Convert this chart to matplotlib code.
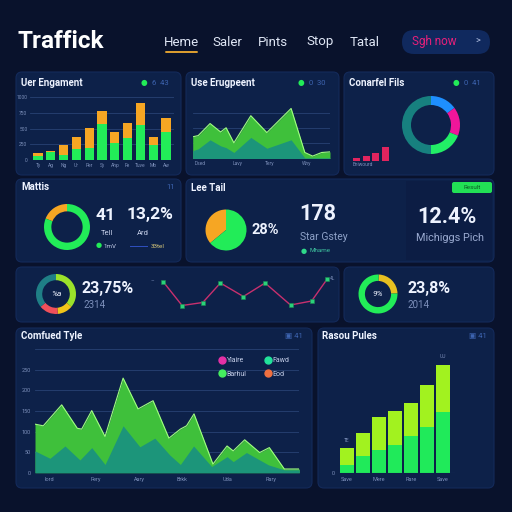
import matplotlib
matplotlib.use('Agg')
import matplotlib.pyplot as plt
from matplotlib.patches import FancyBboxPatch, Rectangle
from matplotlib.lines import Line2D

plt.rcParams['font.family'] = ['Roboto', 'DejaVu Sans']

W, H = 512, 512
BG = '#09122c'
PANEL = '#0d2149'
EDGE = '#142a5a'
GRID = '#284273'
WHITE = '#eef3ff'
DIM = '#7d90bb'
BLUE_DIM = '#3d64b0'
GREEN = '#22ec58'
ORANGE = '#f6a623'
TEAL = '#1c957a'
AREA_GREEN = '#3fc03b'
EDGE_GREEN = '#a0ff80'
LIME = '#a2f21f'

# ---- data ----
nav_items = ['Heme', 'Saler', 'Pints', 'Stop', 'Tatal']

eng_labels = ['Ty', 'Ag', 'Ng', 'Ur', 'Per', 'Sy', 'Ahp', 'Fe', 'Tuve', 'Mb', 'Aw']
eng_total = [110, 140, 240, 370, 510, 780, 440, 590, 900, 370, 670]
eng_green = [60, 130, 80, 170, 190, 570, 270, 350, 560, 240, 440]
eng_ticks = [0, 250, 500, 750, 1000]

use_days = [0, 1.2, 3.8, 6.1, 7.3, 9.0, 12.7, 16.2, 21.5, 24.5, 26.2, 28.2, 30]
use_top = [36, 38, 58, 44, 51, 26, 71, 43, 83, 10, 4, 10, 11]
use_base = [13, 16, 31, 21, 18, 10, 35, 17, 31, 1, 1, 1, 1]
use_tick_days = [1.6, 9.7, 16.9, 24.8]
use_tick_labels = ['Dsed', 'Lavy', 'Tery', 'Wny']

conv_shares = [15, 16, 19, 50]
conv_colors = ['#1e8fff', '#f0169a', '#22ee66', '#17807f']
conv_steps = [3, 5, 8, 14]

mattis_shares = [19, 81]
leetail_shares = [36, 64]
rate_shares = [36, 12.5, 15.5, 36]
rate_colors = ['#9be22a', '#f0c419', '#f0505a', '#1f7f86']
rate2_shares = [24, 76]

trend_x = [0, 0.93, 1.94, 2.8, 3.92, 4.98, 6.22, 7.25, 8.0]
trend_y = [28.5, 4.5, 7.5, 27, 13.5, 27, 5, 9, 30.7]

cf_top_x = [0, 0.94, 3.03, 4.8, 5.3, 6.44, 7.95, 10.0, 11.7, 13.4, 15.2, 16.5,
            17.2, 18.05, 20.2, 21.8, 22.5, 23.8, 25.5, 26.6, 28.3, 30]
cf_top = [118, 114, 165, 108, 106, 151, 88, 230, 155, 175, 84, 106,
          114, 143, 21, 65, 53, 80, 49, 61, 9, 9]
cf_base_x = [0, 1.7, 3.4, 5.1, 6.44, 7.95, 10.0, 11.9, 13.6, 15.3, 16.5, 18.0,
             20.05, 21.8, 22.5, 24.0, 26.5, 28.3, 30]
cf_base = [53, 35, 65, 31, 61, 20, 114, 63, 84, 43, 20, 65, 15, 39, 27, 49, 19, 7, 7]
cf_ticks = [0, 50, 100, 150, 200, 250, 300]
cf_tick_labels = ['0', '50', '100', '150', '200', '250', '']
cf_xtick_days = [1.6, 6.9, 11.9, 16.7, 21.9, 26.8]
cf_xtick_labels = ['Iord', 'Fery', 'Aary', 'Brkk', 'Uda', 'Rary']
cf_legend = ['Ylaire', 'Barhul', 'Fawd', 'Eod']
cf_legend_colors = ['#e531a6', '#45ef5f', '#22e39b', '#f07040']

rp_total = [25, 40, 56, 62, 70, 88, 108]
rp_green = [8, 17, 23, 28, 37, 46, 61]
rp_tick_idx = [0, 2, 4, 6]
rp_tick_labels = ['Save', 'Mere', 'Rare', 'Save']


fig = plt.figure(figsize=(W / 100, H / 100), dpi=100, facecolor=BG)
bg = fig.add_axes([0, 0, 1, 1])
bg.set_xlim(0, W)
bg.set_ylim(H, 0)
bg.axis('off')
bg.set_facecolor(BG)


def px_axes(x0, y0, x1, y1):
    ax = fig.add_axes([x0 / W, 1 - y1 / H, (x1 - x0) / W, (y1 - y0) / H])
    ax.set_facecolor('none')
    for s in ax.spines.values():
        s.set_visible(False)
    ax.tick_params(length=0, labelsize=3.5, colors=DIM, pad=2)
    return ax


def panel(x0, y0, x1, y1, color=PANEL):
    bg.add_patch(FancyBboxPatch((x0, y0), x1 - x0, y1 - y0,
                                boxstyle='round,pad=0,rounding_size=6',
                                fc=color, ec=EDGE, lw=0.8))


def header(x, y, title, right=None, rx=None, dot=None):
    bg.text(x, y, title, color=WHITE, fontsize=7, fontweight='bold', va='center')
    if dot is not None:
        bg.text(dot, y, '\u25cf', color=GREEN, fontsize=5.5, va='center', ha='center')
    if right is not None:
        bg.text(rx, y, right, color=BLUE_DIM, fontsize=5.5, va='center')


def donut(cx, cy, r, sizes, colors, width, start=90, ccw=False):
    ax = px_axes(cx - r, cy - r, cx + r, cy + r)
    ax.pie(sizes, colors=colors, startangle=start, counterclock=ccw,
           wedgeprops=dict(width=width, linewidth=0))
    ax.set_xlim(-1, 1)
    ax.set_ylim(-1, 1)
    return ax


# ---- top bar ----
bg.text(17, 41, 'Traffick', color='white', fontsize=17.5, fontweight='bold', va='center')
for name, cx in zip(nav_items, [181, 227, 273, 320, 365]):
    bg.text(cx, 42, name, color='#dfe6f5', fontsize=9.5, ha='center', va='center')
bg.plot([166, 197], [52, 52], color='#e0a030', lw=1.4, solid_capstyle='round')
bg.add_patch(FancyBboxPatch((402, 30), 88, 24, boxstyle='round,pad=0,rounding_size=12',
                            fc='#10295e', ec='none'))
bg.text(412, 42, 'Sgh now', color='#e8207a', fontsize=8.5, va='center')
bg.text(475, 41, '>', color='#b8c6e6', fontsize=6.5, va='center')

# ---- panels ----
panel(16, 72, 181, 175)
panel(186, 72, 339, 175)
panel(344, 72, 494, 175)
panel(16, 179, 181, 262)
panel(186, 179, 494, 262)
bg.add_patch(Rectangle((406, 181), 86, 79, fc='#0c1d44', ec='none'))
panel(16, 267, 339, 322)
panel(344, 267, 494, 322)
panel(16, 328, 312, 488)
panel(318, 328, 494, 488)

# ---- Uer Engament: stacked bars ----
header(21, 83, 'Uer Engament', '6  43', 152, dot=144)
ax = px_axes(30.3, 94, 173.7, 160)
idx = range(len(eng_labels))
eng_orange = [t - g for t, g in zip(eng_total, eng_green)]
ax.bar(idx, eng_green, width=0.73, color=GREEN)
ax.bar(idx, eng_orange, bottom=eng_green, width=0.73, color=ORANGE)
ax.set_xlim(-0.6, 10.6)
ax.set_ylim(0, 1050)
ax.set_yticks(eng_ticks)
ax.set_yticklabels([str(t) for t in eng_ticks])
ax.set_xticks(list(idx))
ax.set_xticklabels(eng_labels)
ax.grid(axis='y', color=GRID, lw=0.6)
ax.set_axisbelow(True)

# ---- Use Erugpeent: area ----
header(191, 83, 'Use Erugpeent', '0  30', 309, dot=301)
ax = px_axes(192.7, 97, 330, 158.5)
ax.fill_between(use_days, 0, use_top, color=AREA_GREEN, lw=0)
ax.plot(use_days, use_top, color=EDGE_GREEN, lw=0.8)
ax.fill_between(use_days, 0, use_base, color=TEAL, lw=0)
ax.set_xlim(0, 30)
ax.set_ylim(0, 102)
ax.set_yticks([25, 50, 75])
ax.set_yticklabels([])
ax.set_xticks(use_tick_days)
ax.set_xticklabels(use_tick_labels)
ax.grid(axis='y', color=GRID, lw=0.6)
ax.set_axisbelow(True)

# ---- Conarfel Fils: donut + step bars ----
header(349, 83, 'Conarfel Fils', '0  41', 464, dot=456)
donut(431, 125, 29, conv_shares, conv_colors, 0.31)
ax = px_axes(351, 130, 391, 161)
ax.bar(range(len(conv_steps)), conv_steps, width=0.78, color='#e0245e')
ax.set_xlim(-0.6, 3.6)
ax.set_ylim(0, 31)
ax.set_xticks([])
ax.set_yticks([])
bg.text(353, 165, 'Eniwourd', color=DIM, fontsize=3.5, va='center')

# ---- Mattis ----
header(21, 187, 'Mattis', '11', 166)
donut(67, 227, 23, mattis_shares, [ORANGE, GREEN], 0.32, ccw=True)
bg.text(96, 215, '41', color=WHITE, fontsize=12.5, fontweight='bold', va='center')
bg.text(127, 215, '13,2%', color=WHITE, fontsize=12.5, fontweight='bold', va='center')
bg.text(101, 233, 'Tell', color='#c6d0ea', fontsize=5.5, va='center')
bg.text(137, 233, 'Ard', color='#c6d0ea', fontsize=5.5, va='center')
bg.text(99, 246, '\u25cf', color=GREEN, fontsize=5, va='center', ha='center')
bg.text(104, 246, '1mV', color='#c6d0ea', fontsize=4.5, va='center')
bg.plot([130, 147], [246, 246], color='#3050c0', lw=0.7)
bg.text(151, 246, '33tel', color='#d8c87a', fontsize=4.5, va='center')

# ---- Lee Tail ----
header(191, 188, 'Lee Tail')
bg.add_patch(FancyBboxPatch((452, 182), 40, 11, boxstyle='round,pad=0,rounding_size=2',
                            fc='#22e055', ec='none'))
bg.text(472, 187.5, 'Result', color='#0b5a25', fontsize=4.5, ha='center', va='center')
donut(226, 230, 20.5, leetail_shares, [ORANGE, GREEN], 1.0, ccw=True)
bg.text(252, 230, '28%', color=WHITE, fontsize=10.5, fontweight='bold', va='center')
bg.text(299, 214, '178', color=WHITE, fontsize=15.5, fontweight='bold', va='center')
bg.text(300, 237, 'Star Gstey', color='#8ea2c8', fontsize=7.5, va='center')
bg.text(304, 251, '\u25cf', color='#2fd88a', fontsize=5, va='center', ha='center')
bg.text(309, 251, 'Mhame', color='#3fc4a0', fontsize=4.5, va='center')
bg.text(417, 217, '12.4%', color=WHITE, fontsize=15.5, fontweight='bold', va='center')
bg.text(416, 238, 'Michiggs Pich', color='#9aaad0', fontsize=7.8, va='center')

# ---- rate row with trend line ----
donut(56, 294, 20, rate_shares, rate_colors, 0.31)
bg.text(56, 294, '%a', color=WHITE, fontsize=6, ha='center', va='center', style='italic')
bg.text(82, 288, '23,75%', color=WHITE, fontsize=11.5, fontweight='bold', va='center')
bg.text(83, 305, '2314', color=DIM, fontsize=7, va='center')
ax = px_axes(163, 275, 327, 310)
ax.plot(trend_x, trend_y, color='#c8306e', lw=1.0, marker='s', ms=3,
        mfc='#2ad27a', mec='#1a8a50', mew=0.4, clip_on=False)
ax.set_xlim(0, 8)
ax.set_ylim(0, 35)
ax.set_xticks([])
ax.set_yticks([])
bg.text(151, 281, '\u2013', color=DIM, fontsize=4, va='center')
bg.text(330, 279, '4L', color=DIM, fontsize=3.5, va='center')

donut(378, 294, 19.5, rate2_shares, ['#e8c020', GREEN], 0.33, start=88)
bg.text(378, 294, '9%', color=WHITE, fontsize=6, ha='center', va='center', style='italic')
bg.text(408, 288, '23,8%', color=WHITE, fontsize=11.5, fontweight='bold', va='center')
bg.text(408, 305, '2014', color=DIM, fontsize=7, va='center')

# ---- Comfued Tyle: big area ----
header(21, 336, 'Comfued Tyle', '\u25a3 41', 285)
ax = px_axes(35, 349.3, 299.3, 472.7)
ax.fill_between(cf_top_x, 0, cf_top, color=AREA_GREEN, lw=0)
ax.plot(cf_top_x, cf_top, color=EDGE_GREEN, lw=0.8)
ax.fill_between(cf_base_x, 0, cf_base, color=TEAL, lw=0)
ax.set_xlim(0, 30)
ax.set_ylim(0, 300)
ax.set_yticks(cf_ticks)
ax.set_yticklabels(cf_tick_labels)
ax.set_xticks(cf_xtick_days)
ax.set_xticklabels(cf_xtick_labels)
ax.tick_params(labelsize=4, pad=3)
ax.grid(axis='y', color=GRID, lw=0.6)
ax.set_axisbelow(True)
handles = [Line2D([], [], ls='none', marker='o', ms=5, color=c) for c in cf_legend_colors]
ax.legend(handles, cf_legend, ncol=2, loc='upper left', frameon=False,
          bbox_to_anchor=(212 / W, 1 - 351 / H), bbox_transform=fig.transFigure,
          fontsize=5, labelcolor='#c6d0ea', handletextpad=0.2, columnspacing=2.6,
          labelspacing=0.9, handlelength=1.0)

# ---- Rasou Pules: stacked bars ----
header(322, 336, 'Rasou Pules', '\u25a3 41', 469)
ax = px_axes(339, 355, 455, 472.7)
idx = range(len(rp_total))
rp_lime = [t - g for t, g in zip(rp_total, rp_green)]
ax.bar(idx, rp_green, width=0.875, color='#20ea5a')
ax.bar(idx, rp_lime, bottom=rp_green, width=0.875, color=LIME)
ax.axhline(0, color=GRID, lw=0.8)
ax.text(0, rp_total[0] + 7, 'TE', color=DIM, fontsize=3.5, ha='center', va='center')
ax.text(6, rp_total[6] + 8, 'UU', color=DIM, fontsize=3.5, ha='center', va='center')
ax.set_xlim(-0.5, 6.75)
ax.set_ylim(0, 117.7)
ax.set_yticks([0])
ax.set_yticklabels(['0'])
ax.set_xticks(rp_tick_idx)
ax.set_xticklabels(rp_tick_labels)
ax.tick_params(labelsize=4, pad=3)

fig.savefig('out.png', dpi=100, facecolor=BG)
